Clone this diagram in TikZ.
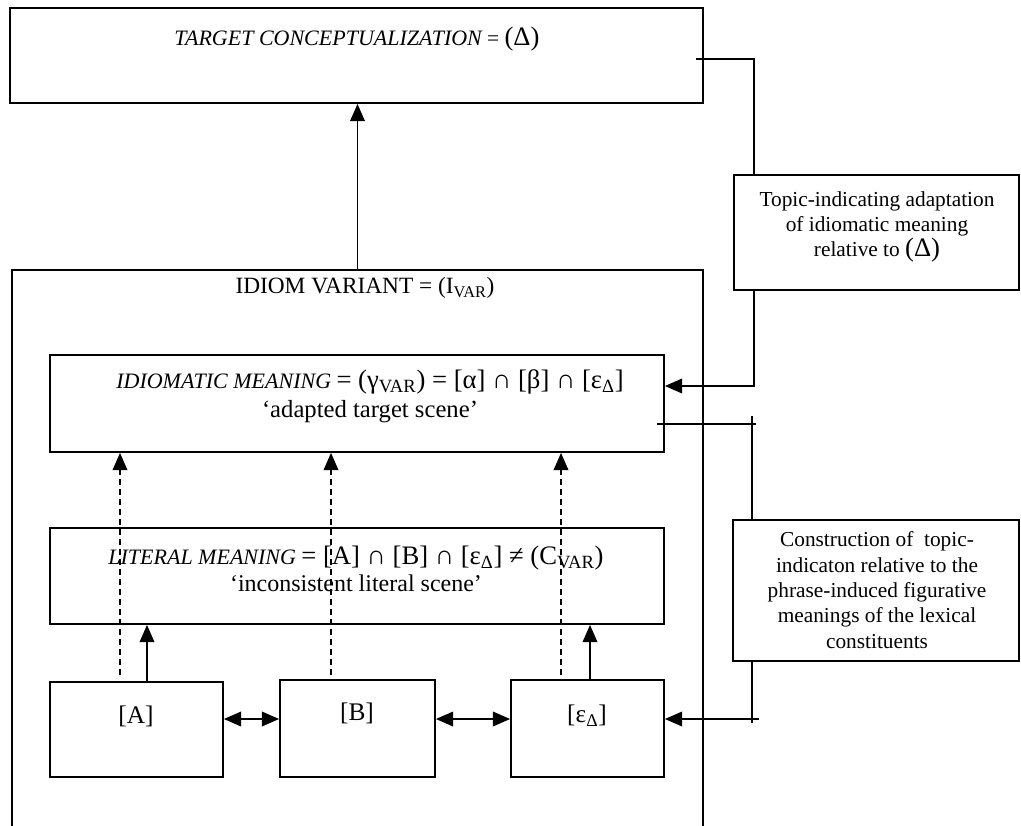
\documentclass[tikz,border=0pt]{standalone}
\usepackage{fontspec}
\setmainfont{Liberation Serif}
\usetikzlibrary{arrows.meta, fit, positioning}

\newcommand{\symsize}{\fontsize{20}{22}\selectfont}
\newcommand{\capsize}{\fontsize{16.5}{19}\selectfont}

\tikzset{
  box/.style={draw, line width=1.3pt, inner sep=0pt},
  arr/.style={-{Triangle[length=13pt,width=11pt]}, line width=1.3pt},
  dblarr/.style={{Triangle[length=13pt,width=11pt]}-{Triangle[length=13pt,width=11pt]}, line width=1.3pt},
  dasharr/.style={arr, dash pattern=on 4.5pt off 3pt},
  txt/.style={align=center, font=\fontsize{16}{19}\selectfont},
  bigtxt/.style={align=center, font=\fontsize{19}{22}\selectfont}
}

\begin{document}
\begin{tikzpicture}[x=0.75pt, y=-0.75pt, line width=1.3pt]
\path[use as bounding box, clip] (0,0) rectangle (1021,825);

% boxes
\node[box, fit={(10,8) (703,103)}] (tc) {};
\node[box, fit={(12,270) (703,860)}] (iv) {};
\node[box, fit={(50,355) (664,452)}] (im) {};
\node[box, fit={(50,528) (664,624)}] (lt) {};
\node[box, fit={(50,682) (223,777)}] (a) {};
\node[box, fit={(280,680) (435,777)}] (b) {};
\node[box, fit={(511,680) (664,777)}] (ep) {};
\node[box, fit={(734,175) (1019,290)}] (tp) {};
\node[box, fit={(733,520) (1019,661)}] (cs) {};

% texts
\node[txt] (tclab) at (357,39) {{\capsize\itshape TARGET CONCEPTUALIZATION} = {\symsize(Δ)}};
\node[txt] (ivlab) at (365,288) {{\fontsize{17.5}{20}\selectfont IDIOM VARIANT = (I\textsubscript{VAR})}};
\node[txt] (imlab) at (370,396) {{\capsize\itshape IDIOMATIC MEANING} {\symsize = (γ\textsubscript{VAR}) = [α] ∩ [β] ∩ [ε\textsubscript{Δ}]}\\[3pt]
  {\fontsize{18.5}{20}\selectfont ‘adapted target scene’}};
\node[txt] (ltlab) at (356,569) {{\capsize\itshape LITERAL MEANING} {\symsize = [A] ∩ [B] ∩ [ε\textsubscript{Δ}] ≠ (C\textsubscript{VAR})}\\[1pt]
  {\fontsize{18}{20}\selectfont ‘inconsistent literal scene’}};
\node[bigtxt] (alab) at (136,716) {[A]};
\node[bigtxt] (blab) at (357,713) {[B]};
\node[bigtxt] (eplab) at (587,716) {[ε\textsubscript{Δ}]};
\node[txt] (tplab) at (877,227) {Topic-indicating adaptation\\of idiomatic meaning\\relative to {\symsize(Δ)}};
\node[txt] (cslab) at (877,590) {Construction of \ topic-\\indicaton relative to the\\phrase-induced figurative\\meanings of the lexical\\constituents};

% main arrows
\draw[arr] (iv.north) -- (iv.north |- tc.south);

\coordinate (s1) at (147,0);
\coordinate (s2) at (590,0);
\draw[arr] (s1 |- a.north) -- (s1 |- lt.south);
\draw[arr] (s2 |- ep.north) -- (s2 |- lt.south);

\coordinate (d1) at (120,675);
\coordinate (d2) at (331,675);
\coordinate (d3) at (561,675);
\draw[dasharr] (d1) -- (d1 |- im.south);
\draw[dasharr] (d2) -- (d2 |- im.south);
\draw[dasharr] (d3) -- (d3 |- im.south);

\coordinate (m) at (0,719);
\draw[dblarr] (a.east |- m) -- (b.west |- m);
\draw[dblarr] (b.east |- m) -- (ep.west |- m);

% right connectors
\coordinate (tcout) at (696,59);
\coordinate (k1) at (754,59);
\coordinate (k2) at (754,386);
\draw (tcout) -- (k1) -- (k1 |- tp.north);
\draw[arr] (k1 |- tp.south) -- (k2) -- (k2 -| im.east);

\coordinate (imout) at (657,424);
\coordinate (k3) at (756,424);
\coordinate (k4) at (752,416);
\coordinate (k5) at (752,723);
\coordinate (k6) at (759,719);
\draw (imout) -- (k3);
\draw (k4) -- (k4 |- cs.north);
\draw (k4 |- cs.south) -- (k5);
\draw[arr] (k6) -- (k6 -| ep.east);
\end{tikzpicture}
\end{document}
